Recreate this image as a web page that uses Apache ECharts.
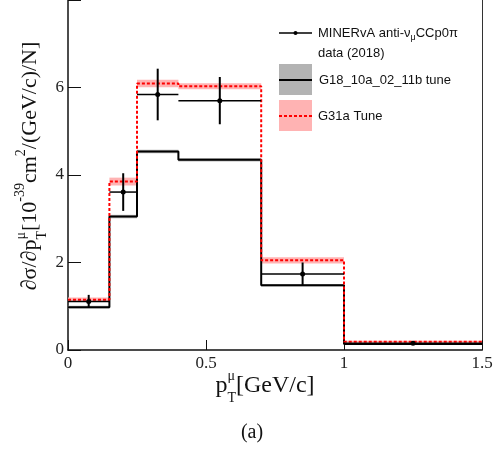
<!DOCTYPE html>
<html><head><meta charset="utf-8">
<script src="https://cdn.jsdelivr.net/npm/echarts@6/dist/echarts.min.js"></script>
<style>html,body{margin:0;padding:0;background:#fff}#c{width:503px;height:452px}</style>
</head><body><div id="c"></div>
<script>
// ---- data ----
const binEdges = [0, 0.15, 0.25, 0.4, 0.7, 1.0, 1.5];
const g18Values = [0.98, 3.05, 4.54, 4.35, 1.48, 0.14];
const g18Errors = [0.03, 0.04, 0.04, 0.04, 0.03, 0.01];
const g31Values = [1.15, 3.85, 6.09, 6.03, 2.05, 0.19];
const g31Errors = [0.05, 0.09, 0.085, 0.07, 0.07, 0.02];
const dataX = [0.075, 0.2, 0.325, 0.55, 0.85, 1.25];
const dataY = [1.11, 3.61, 5.84, 5.70, 1.74, 0.155];
const dataErr = [0.15, 0.43, 0.59, 0.54, 0.26, 0.02];
const xTicks = [0, 0.5, 1, 1.5];
const yTicks = [0, 2, 4, 6, 8];

const SERIF = '"Liberation Serif", "DejaVu Serif", serif';
const SANS = '"Liberation Sans", Arial, sans-serif';
const cv = document.createElement('canvas').getContext('2d');
function meas(t, s, f) { cv.font = s + 'px ' + f; return cv.measureText(t).width; }
function txt(t, x, y, s, f, fill) {
  return { type: 'text', x: x, y: y, silent: true,
    style: { text: t, fontSize: s, fontFamily: f, fill: fill || '#111',
      align: 'left', verticalAlign: 'middle', textAlign: 'left', textVerticalAlign: 'middle' } };
}
function row(tokens, f, fill) {
  let x = 0; const ch = [];
  tokens.forEach(tk => {
    const list = tk.stack ? tk.stack : [tk];
    let w = 0;
    list.forEach(p => { ch.push(txt(p.t, x, p.dy || 0, p.s, f, fill)); w = Math.max(w, meas(p.t, p.s, f)); });
    x += w;
  });
  return { children: ch, width: x };
}
function centered(tokens, f, cx, cy, rot, fill) {
  const r = row(tokens, f, fill);
  r.children.forEach(c => { c.x -= r.width / 2; });
  return { type: 'group', x: cx, y: cy, rotation: rot || 0, children: r.children };
}

const xTitle = centered([
  { t: 'p', s: 24 },
  { stack: [{ t: 'μ', s: 14, dy: -10 }, { t: 'T', s: 14, dy: 12 }] },
  { t: '[GeV/c]', s: 24 }
], SERIF, 265, 386, 0);

const yTitle = centered([
  { t: '∂σ/∂p', s: 22 },
  { stack: [{ t: 'μ', s: 14, dy: -9 }, { t: 'T', s: 14, dy: 12 }] },
  { t: '[10', s: 22 },
  { t: '-39', s: 14, dy: -10 },
  { t: 'cm', s: 22 },
  { t: '2', s: 14, dy: -9 },
  { t: '/(GeV/c)/N]', s: 22 }
], SERIF, 30, 166, Math.PI / 2);

const legendLine1 = row([{ t: 'MINERvA anti-ν', s: 13 }, { t: 'μ', s: 9, dy: 5 }, { t: 'CCp0π', s: 13 }], SANS);
legendLine1.children.forEach(c => { c.x += 318; c.y += 33; });

const graphics = [
  xTitle, yTitle,
  { type: 'text', x: 252, y: 433, style: { text: '(a)', fontSize: 20, fontFamily: SERIF, fill: '#111', align: 'center', verticalAlign: 'middle', textAlign: 'center', textVerticalAlign: 'middle' } },
  // legend
  { type: 'line', shape: { x1: 279, y1: 33, x2: 312, y2: 33 }, style: { stroke: '#000', lineWidth: 1.3 } },
  { type: 'circle', shape: { cx: 295.5, cy: 33, r: 2 }, style: { fill: '#000' } },
  ...legendLine1.children,
  txt('data (2018)', 318, 53, 13, SANS),
  { type: 'rect', shape: { x: 279, y: 64, width: 33, height: 31 }, style: { fill: '#b3b3b3' } },
  { type: 'line', shape: { x1: 279, y1: 80, x2: 312, y2: 80 }, style: { stroke: '#000', lineWidth: 2 } },
  txt('G18_10a_02_11b tune', 319, 80, 13, SANS),
  { type: 'rect', shape: { x: 279, y: 100, width: 33, height: 31 }, style: { fill: '#ffb3b3' } },
  { type: 'line', shape: { x1: 279, y1: 116, x2: 312, y2: 116 }, style: { stroke: '#ff0000', lineWidth: 2, lineDash: [3, 2] } },
  txt('G31a Tune', 318, 116, 13, SANS)
];

function stepData(vals) {
  const d = vals.map((v, i) => [binEdges[i], v]);
  d.push([binEdges[binEdges.length - 1], vals[vals.length - 1]]);
  return d;
}
function bandData(vals, errs) {
  return vals.map((v, i) => [binEdges[i], binEdges[i + 1], v, errs[i]]);
}
function bandRender(color) {
  return function (params, api) {
    const x0 = api.value(0), x1 = api.value(1), v = api.value(2), e = api.value(3);
    const p0 = api.coord([x0, v + e]), p1 = api.coord([x1, v - e]);
    return { type: 'rect', shape: { x: p0[0], y: p0[1], width: p1[0] - p0[0], height: Math.max(p1[1] - p0[1], 1) }, style: { fill: color } };
  };
}
const pointsData = dataY.map((v, i) => [binEdges[i], binEdges[i + 1], dataX[i], v, dataErr[i]]);

const chart = echarts.init(document.getElementById('c'), null, { renderer: 'canvas' });
chart.setOption({
  animation: false,
  backgroundColor: '#fff',
  grid: { left: 68, right: 21, top: 0, bottom: 102, show: false },
  xAxis: {
    type: 'value', min: xTicks[0], max: xTicks[xTicks.length - 1], interval: 0.5,
    axisLine: { show: true, lineStyle: { color: '#111', width: 1.5 } },
    axisTick: { show: true, inside: true, length: 10, lineStyle: { color: '#111', width: 1 } },
    splitLine: { show: false },
    axisLabel: { fontFamily: SERIF, fontSize: 17, color: '#222', margin: 5, formatter: v => String(v) }
  },
  yAxis: [{
    type: 'value', min: yTicks[0], max: yTicks[yTicks.length - 1], interval: 2,
    axisLine: { show: true, lineStyle: { color: '#111', width: 1.5 } },
    axisTick: { show: true, inside: true, length: 13, lineStyle: { color: '#111', width: 1 } },
    splitLine: { show: false },
    axisLabel: { fontFamily: SERIF, fontSize: 17, color: '#222', margin: 4, formatter: v => (v === 8 ? '' : String(v)) }
  }, {
    type: 'value', position: 'right', min: yTicks[0], max: yTicks[yTicks.length - 1], interval: 2,
    axisLine: { show: true, lineStyle: { color: '#333', width: 1 } },
    axisTick: { show: false }, axisLabel: { show: false }, splitLine: { show: false }
  }],
  graphic: graphics,
  series: [
    { type: 'custom', renderItem: bandRender('rgba(170,170,170,0.85)'), data: bandData(g18Values, g18Errors), encode: { x: [0, 1], y: 2 }, silent: true, z: 1 },
    { type: 'custom', renderItem: bandRender('#ffb3b3'), data: bandData(g31Values, g31Errors), encode: { x: [0, 1], y: 2 }, silent: true, z: 1 },
    { type: 'line', step: 'end', data: stepData(g18Values), symbol: 'none', lineStyle: { color: '#000', width: 2 }, z: 2 },
    { type: 'line', step: 'end', data: stepData(g31Values), symbol: 'none', lineStyle: { color: '#ff0000', width: 2, type: [3, 2] }, z: 3 },
    {
      type: 'custom', z: 4, data: pointsData, encode: { x: [0, 1, 2], y: 3 },
      renderItem: function (params, api) {
        const x0 = api.value(0), x1 = api.value(1), xc = api.value(2), y = api.value(3), e = api.value(4);
        const a = api.coord([x0, y]), b = api.coord([x1, y]);
        const t = api.coord([xc, y + e]), bo = api.coord([xc, y - e]), c = api.coord([xc, y]);
        return { type: 'group', children: [
          { type: 'line', shape: { x1: a[0], y1: a[1], x2: b[0], y2: b[1] }, style: { stroke: '#000', lineWidth: 1.5 } },
          { type: 'line', shape: { x1: t[0], y1: t[1], x2: bo[0], y2: bo[1] }, style: { stroke: '#000', lineWidth: 2 } },
          { type: 'circle', shape: { cx: c[0], cy: c[1], r: 2.5 }, style: { fill: '#000' } }
        ] };
      }
    }
  ]
});
</script></body></html>
